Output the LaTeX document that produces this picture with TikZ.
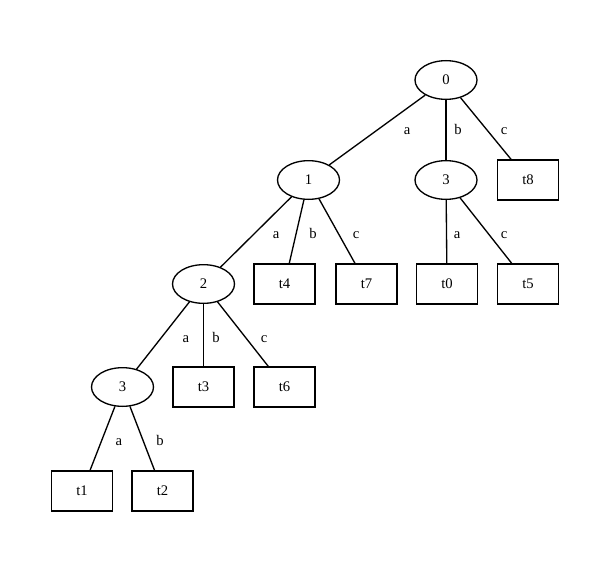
\documentclass[tikz,border=0pt]{standalone}
\usepackage{fontspec}
\setmainfont{Liberation Serif}
\usetikzlibrary{shapes.geometric}
\begin{document}
\begin{tikzpicture}[x=0.75pt,y=0.75pt,
  state/.style={draw=drawColor,ellipse,line width=1pt,inner sep=0pt,minimum width=46.5pt,minimum height=29pt,font=\fontsize{11}{13}\selectfont},
  leaf/.style={draw=drawColor,rectangle,line width=1pt,inner sep=0pt,minimum width=45.75pt,minimum height=30pt,font=\fontsize{11}{13}\selectfont},
  edge/.style={draw=drawColor,line width=1pt},
  lbl/.style={text=drawColor,anchor=base,inner sep=0pt,outer sep=0pt,font=\fontsize{11}{13}\selectfont}]
\definecolor{fillColor}{RGB}{255,255,255}
\definecolor{drawColor}{RGB}{0,0,0}
\path[use as bounding box,fill=fillColor] (0,0) rectangle (609,569);

% states
\node[state] (s0) at (446,489) {0};
\node[state] (s1) at (308.5,389) {1};
\node[state] (s3r) at (446,389) {3};
\node[state] (s2) at (203.5,285) {2};
\node[state] (s3l) at (122.5,182) {3};

% leaves
\node[leaf] (t8) at (528,389) {t8};
\node[leaf] (t4) at (284.5,285) {t4};
\node[leaf] (t7) at (366.5,285) {t7};
\node[leaf] (t0) at (447,285) {t0};
\node[leaf] (t5) at (528,285) {t5};
\node[leaf] (t3) at (203.5,182) {t3};
\node[leaf] (t6) at (284.5,182) {t6};
\node[leaf] (t1) at (82,78) {t1};
\node[leaf] (t2) at (162.5,78) {t2};

% transitions
\path[edge] (s0) -- (s1);
\path[edge] (s0) -- (s3r);
\path[edge] (s0) -- (t8);
\path[edge] (s1) -- (s2);
\path[edge] (s1) -- (t4);
\path[edge] (s1) -- (t7);
\path[edge] (s3r) -- (t0);
\path[edge] (s3r) -- (t5);
\path[edge] (s2) -- (s3l);
\path[edge] (s2) -- (t3);
\path[edge] (s2) -- (t6);
\path[edge] (s3l) -- (t1);
\path[edge] (s3l) -- (t2);

% labels
\node[lbl] (l01) at (407,435) {a};
\node[lbl] (l03) at (458,435) {b};
\node[lbl] (l08) at (504,435) {c};
\node[lbl] (l12) at (276,331) {a};
\node[lbl] (l14) at (313,331) {b};
\node[lbl] (l17) at (356,331) {c};
\node[lbl] (l30) at (457,331) {a};
\node[lbl] (l35) at (504,331) {c};
\node[lbl] (l23) at (186,227) {a};
\node[lbl] (l2t3) at (216,227) {b};
\node[lbl] (l26) at (264,227) {c};
\node[lbl] (l31) at (119,124) {a};
\node[lbl] (l32) at (160,124) {b};
\end{tikzpicture}
\end{document}
